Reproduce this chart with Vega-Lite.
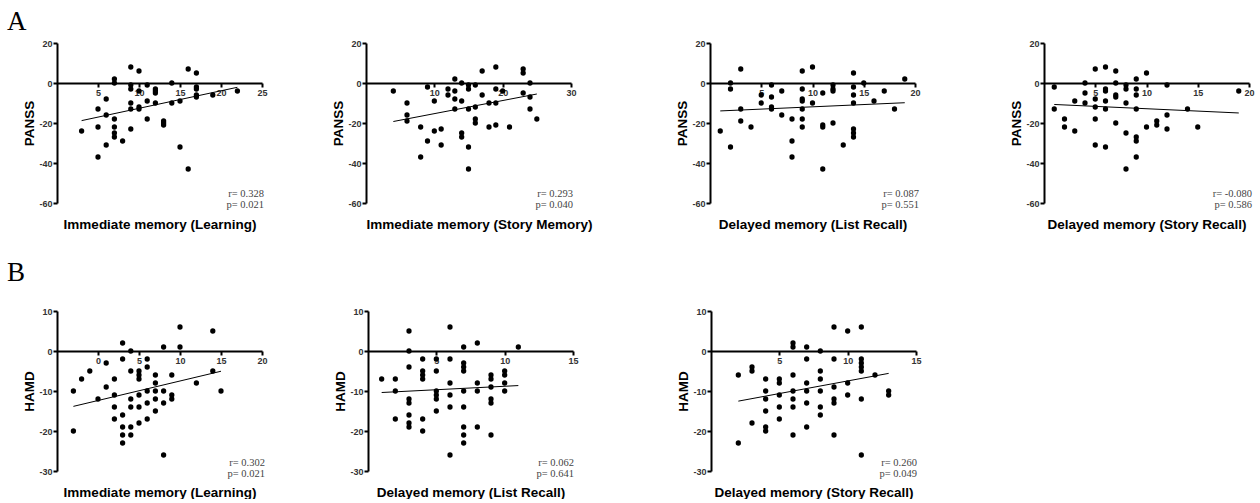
{
  "$schema": "https://vega.github.io/schema/vega-lite/v6.json",
  "padding": {"left": 7, "top": 8, "right": 0, "bottom": 0},
  "background": "white",
  "datasets": {
    "a1": [{"x":3,"y":-24},{"x":5,"y":-13},{"x":5,"y":-22},{"x":5,"y":-37},{"x":6,"y":-8},{"x":6,"y":-16},{"x":6,"y":-31},{"x":7,"y":2},{"x":7,"y":0},{"x":7,"y":-18},{"x":7,"y":-22},{"x":7,"y":-25},{"x":7,"y":-27},{"x":8,"y":-29},{"x":9,"y":8},{"x":9,"y":-1},{"x":9,"y":-3},{"x":9,"y":-10},{"x":9,"y":-13},{"x":9,"y":-23},{"x":10,"y":6},{"x":10,"y":-4},{"x":10,"y":-12},{"x":10,"y":-13},{"x":11,"y":-1},{"x":11,"y":-9},{"x":11,"y":-18},{"x":12,"y":-3},{"x":12,"y":-4},{"x":12,"y":-5},{"x":12,"y":-10},{"x":13,"y":-19},{"x":13,"y":-20},{"x":13,"y":-21},{"x":14,"y":0},{"x":14,"y":-10},{"x":15,"y":-9},{"x":15,"y":-32},{"x":16,"y":7},{"x":16,"y":-43},{"x":17,"y":5},{"x":17,"y":-2},{"x":17,"y":-3},{"x":17,"y":-6},{"x":17,"y":-7},{"x":19,"y":-6},{"x":22,"y":-4}],
    "a2": [{"x":4,"y":-4},{"x":6,"y":-10},{"x":6,"y":-16},{"x":6,"y":-19},{"x":8,"y":-22},{"x":8,"y":-37},{"x":9,"y":-2},{"x":9,"y":-29},{"x":10,"y":-9},{"x":10,"y":-24},{"x":11,"y":-23},{"x":11,"y":-31},{"x":12,"y":-3},{"x":12,"y":-6},{"x":13,"y":2},{"x":13,"y":-4},{"x":13,"y":-8},{"x":13,"y":-13},{"x":14,"y":0},{"x":14,"y":-9},{"x":14,"y":-25},{"x":14,"y":-27},{"x":15,"y":-1},{"x":15,"y":-3},{"x":15,"y":-13},{"x":15,"y":-32},{"x":15,"y":-43},{"x":16,"y":-1},{"x":16,"y":-12},{"x":16,"y":-18},{"x":16,"y":-20},{"x":17,"y":6},{"x":17,"y":-6},{"x":18,"y":-10},{"x":18,"y":-22},{"x":19,"y":8},{"x":19,"y":-3},{"x":19,"y":-10},{"x":19,"y":-21},{"x":20,"y":-4},{"x":21,"y":-22},{"x":23,"y":7},{"x":23,"y":5},{"x":23,"y":-5},{"x":24,"y":0},{"x":24,"y":-7},{"x":24,"y":-13},{"x":25,"y":-18}],
    "a3": [{"x":1,"y":-24},{"x":2,"y":0},{"x":2,"y":-3},{"x":2,"y":-32},{"x":3,"y":7},{"x":3,"y":-13},{"x":3,"y":-19},{"x":4,"y":-22},{"x":5,"y":-6},{"x":5,"y":-10},{"x":6,"y":-1},{"x":6,"y":-7},{"x":6,"y":-12},{"x":6,"y":-13},{"x":7,"y":-4},{"x":7,"y":-16},{"x":8,"y":-18},{"x":8,"y":-29},{"x":8,"y":-37},{"x":9,"y":6},{"x":9,"y":-3},{"x":9,"y":-8},{"x":9,"y":-9},{"x":9,"y":-13},{"x":9,"y":-18},{"x":9,"y":-22},{"x":10,"y":8},{"x":10,"y":-10},{"x":11,"y":-5},{"x":11,"y":-21},{"x":11,"y":-22},{"x":11,"y":-43},{"x":12,"y":-1},{"x":12,"y":-3},{"x":12,"y":-4},{"x":12,"y":-20},{"x":13,"y":-31},{"x":14,"y":5},{"x":14,"y":-2},{"x":14,"y":-6},{"x":14,"y":-10},{"x":14,"y":-23},{"x":14,"y":-25},{"x":14,"y":-27},{"x":15,"y":0},{"x":16,"y":-9},{"x":17,"y":-4},{"x":18,"y":-13},{"x":19,"y":2}],
    "a4": [{"x":1,"y":-2},{"x":1,"y":-13},{"x":2,"y":-18},{"x":2,"y":-22},{"x":3,"y":-9},{"x":3,"y":-24},{"x":4,"y":0},{"x":4,"y":-5},{"x":4,"y":-10},{"x":5,"y":7},{"x":5,"y":-8},{"x":5,"y":-12},{"x":5,"y":-18},{"x":5,"y":-31},{"x":6,"y":8},{"x":6,"y":-3},{"x":6,"y":-4},{"x":6,"y":-9},{"x":6,"y":-13},{"x":6,"y":-32},{"x":7,"y":6},{"x":7,"y":0},{"x":7,"y":-6},{"x":7,"y":-7},{"x":7,"y":-20},{"x":8,"y":-1},{"x":8,"y":-3},{"x":8,"y":-10},{"x":8,"y":-25},{"x":8,"y":-43},{"x":9,"y":2},{"x":9,"y":-3},{"x":9,"y":-6},{"x":9,"y":-13},{"x":9,"y":-27},{"x":9,"y":-29},{"x":9,"y":-37},{"x":10,"y":5},{"x":10,"y":-22},{"x":11,"y":-19},{"x":11,"y":-21},{"x":12,"y":-1},{"x":12,"y":-16},{"x":12,"y":-23},{"x":14,"y":-13},{"x":15,"y":-22},{"x":19,"y":-4}],
    "b1": [{"x":-3,"y":-10},{"x":-3,"y":-20},{"x":-2,"y":-7},{"x":-1,"y":-5},{"x":0,"y":-12},{"x":1,"y":-3},{"x":1,"y":-9},{"x":2,"y":-7},{"x":2,"y":-11},{"x":2,"y":-14},{"x":2,"y":-17},{"x":3,"y":2},{"x":3,"y":-2},{"x":3,"y":-16},{"x":3,"y":-19},{"x":3,"y":-21},{"x":3,"y":-23},{"x":4,"y":0},{"x":4,"y":-5},{"x":4,"y":-12},{"x":4,"y":-14},{"x":4,"y":-19},{"x":4,"y":-21},{"x":5,"y":-5},{"x":5,"y":-6},{"x":5,"y":-7},{"x":5,"y":-11},{"x":5,"y":-14},{"x":5,"y":-18},{"x":6,"y":-2},{"x":6,"y":-4},{"x":6,"y":-10},{"x":6,"y":-13},{"x":6,"y":-17},{"x":7,"y":-6},{"x":7,"y":-8},{"x":7,"y":-10},{"x":7,"y":-12},{"x":7,"y":-15},{"x":8,"y":1},{"x":8,"y":-10},{"x":8,"y":-13},{"x":8,"y":-26},{"x":9,"y":-6},{"x":9,"y":-11},{"x":9,"y":-12},{"x":10,"y":6},{"x":10,"y":1},{"x":12,"y":-8},{"x":14,"y":5},{"x":14,"y":-5},{"x":15,"y":-10}],
    "b2": [{"x":1,"y":-7},{"x":2,"y":-7},{"x":2,"y":-10},{"x":2,"y":-17},{"x":3,"y":5},{"x":3,"y":0},{"x":3,"y":-4},{"x":3,"y":-12},{"x":3,"y":-13},{"x":3,"y":-16},{"x":3,"y":-18},{"x":3,"y":-19},{"x":4,"y":-2},{"x":4,"y":-5},{"x":4,"y":-6},{"x":4,"y":-7},{"x":4,"y":-17},{"x":4,"y":-20},{"x":5,"y":-2},{"x":5,"y":-5},{"x":5,"y":-10},{"x":5,"y":-11},{"x":5,"y":-12},{"x":5,"y":-15},{"x":6,"y":6},{"x":6,"y":-2},{"x":6,"y":-8},{"x":6,"y":-11},{"x":6,"y":-14},{"x":6,"y":-26},{"x":7,"y":1},{"x":7,"y":-3},{"x":7,"y":-4},{"x":7,"y":-5},{"x":7,"y":-10},{"x":7,"y":-14},{"x":7,"y":-19},{"x":7,"y":-21},{"x":7,"y":-23},{"x":8,"y":2},{"x":8,"y":-8},{"x":8,"y":-10},{"x":8,"y":-19},{"x":9,"y":-6},{"x":9,"y":-7},{"x":9,"y":-9},{"x":9,"y":-12},{"x":9,"y":-13},{"x":9,"y":-21},{"x":10,"y":-5},{"x":10,"y":-6},{"x":10,"y":-8},{"x":10,"y":-10},{"x":11,"y":1}],
    "b3": [{"x":2,"y":-6},{"x":2,"y":-23},{"x":3,"y":-4},{"x":3,"y":-5},{"x":3,"y":-18},{"x":4,"y":-7},{"x":4,"y":-10},{"x":4,"y":-12},{"x":4,"y":-15},{"x":4,"y":-19},{"x":4,"y":-20},{"x":5,"y":-7},{"x":5,"y":-8},{"x":5,"y":-11},{"x":5,"y":-14},{"x":5,"y":-17},{"x":6,"y":2},{"x":6,"y":1},{"x":6,"y":-6},{"x":6,"y":-10},{"x":6,"y":-12},{"x":6,"y":-14},{"x":6,"y":-21},{"x":7,"y":1},{"x":7,"y":-2},{"x":7,"y":-8},{"x":7,"y":-10},{"x":7,"y":-13},{"x":7,"y":-19},{"x":8,"y":0},{"x":8,"y":-5},{"x":8,"y":-7},{"x":8,"y":-10},{"x":8,"y":-14},{"x":8,"y":-16},{"x":9,"y":6},{"x":9,"y":-2},{"x":9,"y":-9},{"x":9,"y":-12},{"x":9,"y":-13},{"x":9,"y":-21},{"x":10,"y":5},{"x":10,"y":-8},{"x":10,"y":-11},{"x":11,"y":6},{"x":11,"y":-2},{"x":11,"y":-3},{"x":11,"y":-4},{"x":11,"y":-5},{"x":11,"y":-12},{"x":11,"y":-26},{"x":12,"y":-6},{"x":13,"y":-10},{"x":13,"y":-11}]
  },
  "config": {
    "view": {"stroke": null},
    "font": "Liberation Sans",
    "axis": {"grid": false, "domainColor": "#000", "domainWidth": 2, "tickColor": "#000", "tickWidth": 2, "tickSize": 4, "tickCount": 12, "labelFont": "Liberation Sans", "labelFontWeight": "bold", "labelFontSize": 9, "labelColor": "#333", "labelPadding": 1, "titleFont": "Liberation Sans", "titleFontWeight": "bold", "titleFontSize": 13.5, "titleColor": "#000", "labelFlush": false, "labelOverlap": false},
    "title": {"font": "Liberation Serif", "fontSize": 27, "fontWeight": "normal", "color": "#000", "anchor": "start"}
  },
  "vconcat": [
    {
      "title": {"text": "A", "offset": 3, "dx": -15},
      "spacing": 83,
      "hconcat": [
        {"spacing": 63, "hconcat": [
          {"width": 205, "height": 160, "data": {"name": "a1"}, "layer": [
            {"mark": {"type": "circle", "size": 28, "color": "#000", "opacity": 1},
             "encoding": {
               "x": {"field": "x", "type": "quantitative", "scale": {"domain": [0, 25], "nice": false, "zero": false}, "axis": {"values": [5, 10, 15, 20, 25], "tickCount": 12, "offset": -120, "title": "Immediate memory (Learning)", "titleY": 145, "titleBaseline": "alphabetic", "labelOverlap": false}},
               "y": {"field": "y", "type": "quantitative", "scale": {"domain": [-60, 20], "nice": false, "zero": false}, "axis": {"values": [-60, -40, -20, 0, 20], "tickCount": 12, "labelExpr": "'' + datum.value", "labelOverlap": false, "title": "PANSS", "titleX": -28, "titleBaseline": "middle"}}}},
            {"transform": [{"regression": "y", "on": "x"}], "mark": {"type": "line", "color": "#000", "strokeWidth": 1}, "encoding": {"x": {"field": "x", "type": "quantitative"}, "y": {"field": "y", "type": "quantitative"}}},
            {"data": {"values": [{"lines": ["r= 0.328", "p= 0.021"]}]}, "mark": {"type": "text", "align": "right", "baseline": "alphabetic", "font": "Liberation Serif", "fontSize": 10.5, "lineHeight": 10.5, "color": "#444", "dx": 2}, "encoding": {"x": {"datum": 25}, "y": {"datum": -57}, "text": {"field": "lines"}}}
          ]},
          {"width": 205, "height": 160, "data": {"name": "a2"}, "layer": [
            {"mark": {"type": "circle", "size": 28, "color": "#000", "opacity": 1},
             "encoding": {
               "x": {"field": "x", "type": "quantitative", "scale": {"domain": [0, 30], "nice": false, "zero": false}, "axis": {"values": [10, 20, 30], "tickCount": 12, "offset": -120, "title": "Immediate memory (Story Memory)", "titleY": 145, "titleX": 113, "titleBaseline": "alphabetic", "labelOverlap": false}},
               "y": {"field": "y", "type": "quantitative", "scale": {"domain": [-60, 20], "nice": false, "zero": false}, "axis": {"values": [-60, -40, -20, 0, 20], "tickCount": 12, "labelExpr": "'' + datum.value", "labelOverlap": false, "title": "PANSS", "titleX": -28, "titleBaseline": "middle"}}}},
            {"transform": [{"regression": "y", "on": "x"}], "mark": {"type": "line", "color": "#000", "strokeWidth": 1}, "encoding": {"x": {"field": "x", "type": "quantitative"}, "y": {"field": "y", "type": "quantitative"}}},
            {"data": {"values": [{"lines": ["r= 0.293", "p= 0.040"]}]}, "mark": {"type": "text", "align": "right", "baseline": "alphabetic", "font": "Liberation Serif", "fontSize": 10.5, "lineHeight": 10.5, "color": "#444", "dx": 2}, "encoding": {"x": {"datum": 30}, "y": {"datum": -57}, "text": {"field": "lines"}}}
          ]}
        ]},
        {"spacing": 88, "hconcat": [
          {"width": 205, "height": 160, "data": {"name": "a3"}, "layer": [
            {"mark": {"type": "circle", "size": 28, "color": "#000", "opacity": 1},
             "encoding": {
               "x": {"field": "x", "type": "quantitative", "scale": {"domain": [0, 20], "nice": false, "zero": false}, "axis": {"values": [5, 10, 15, 20], "tickCount": 12, "offset": -120, "title": "Delayed memory (List Recall)", "titleY": 145, "titleBaseline": "alphabetic", "labelOverlap": false}},
               "y": {"field": "y", "type": "quantitative", "scale": {"domain": [-60, 20], "nice": false, "zero": false}, "axis": {"values": [-60, -40, -20, 0, 20], "tickCount": 12, "labelExpr": "'' + datum.value", "labelOverlap": false, "title": "PANSS", "titleX": -28, "titleBaseline": "middle"}}}},
            {"transform": [{"regression": "y", "on": "x"}], "mark": {"type": "line", "color": "#000", "strokeWidth": 1}, "encoding": {"x": {"field": "x", "type": "quantitative"}, "y": {"field": "y", "type": "quantitative"}}},
            {"data": {"values": [{"lines": ["r= 0.087", "p= 0.551"]}]}, "mark": {"type": "text", "align": "right", "baseline": "alphabetic", "font": "Liberation Serif", "fontSize": 10.5, "lineHeight": 10.5, "color": "#444", "dx": 4}, "encoding": {"x": {"datum": 20}, "y": {"datum": -57}, "text": {"field": "lines"}}}
          ]},
          {"width": 205, "height": 160, "data": {"name": "a4"}, "layer": [
            {"mark": {"type": "circle", "size": 28, "color": "#000", "opacity": 1},
             "encoding": {
               "x": {"field": "x", "type": "quantitative", "scale": {"domain": [0, 20], "nice": false, "zero": false}, "axis": {"values": [5, 10, 15, 20], "tickCount": 12, "offset": -120, "title": "Delayed memory (Story Recall)", "titleY": 145, "titleBaseline": "alphabetic", "labelOverlap": false}},
               "y": {"field": "y", "type": "quantitative", "scale": {"domain": [-60, 20], "nice": false, "zero": false}, "axis": {"values": [-60, -40, -20, 0, 20], "tickCount": 12, "labelExpr": "'' + datum.value", "labelOverlap": false, "title": "PANSS", "titleX": -28, "titleBaseline": "middle"}}}},
            {"transform": [{"regression": "y", "on": "x"}], "mark": {"type": "line", "color": "#000", "strokeWidth": 1}, "encoding": {"x": {"field": "x", "type": "quantitative"}, "y": {"field": "y", "type": "quantitative"}}},
            {"data": {"values": [{"lines": ["r= -0.080", "p= 0.586"]}]}, "mark": {"type": "text", "align": "right", "baseline": "alphabetic", "font": "Liberation Serif", "fontSize": 10.5, "lineHeight": 10.5, "color": "#444", "dx": 3}, "encoding": {"x": {"datum": 20}, "y": {"datum": -57}, "text": {"field": "lines"}}}
          ]}
        ]}
      ]
    },
    {
      "title": {"text": "B", "offset": 20, "dx": -15},
      "spacing": 97,
      "hconcat": [
        {"spacing": 65, "hconcat": [
          {"width": 205, "height": 160, "data": {"name": "b1"}, "layer": [
            {"mark": {"type": "circle", "size": 28, "color": "#000", "opacity": 1},
             "encoding": {
               "x": {"field": "x", "type": "quantitative", "scale": {"domain": [-5, 20], "nice": false, "zero": false}, "axis": {"values": [0, 5, 10, 15, 20], "tickCount": 12, "offset": -120, "title": "Immediate memory (Learning)", "titleY": 145, "titleBaseline": "alphabetic", "labelOverlap": false}},
               "y": {"field": "y", "type": "quantitative", "scale": {"domain": [-30, 10], "nice": false, "zero": false}, "axis": {"values": [-30, -20, -10, 0, 10], "tickCount": 12, "labelExpr": "'' + datum.value", "labelOverlap": false, "title": "HAMD", "titleX": -28, "titleBaseline": "middle"}}}},
            {"transform": [{"regression": "y", "on": "x"}], "mark": {"type": "line", "color": "#000", "strokeWidth": 1}, "encoding": {"x": {"field": "x", "type": "quantitative"}, "y": {"field": "y", "type": "quantitative"}}},
            {"data": {"values": [{"lines": ["r= 0.302", "p= 0.021"]}]}, "mark": {"type": "text", "align": "right", "baseline": "alphabetic", "font": "Liberation Serif", "fontSize": 10.5, "lineHeight": 10.5, "color": "#444", "dx": 3}, "encoding": {"x": {"datum": 20}, "y": {"datum": -28.8}, "text": {"field": "lines"}}}
          ]},
          {"width": 205, "height": 160, "data": {"name": "b2"}, "layer": [
            {"mark": {"type": "circle", "size": 28, "color": "#000", "opacity": 1},
             "encoding": {
               "x": {"field": "x", "type": "quantitative", "scale": {"domain": [0, 15], "nice": false, "zero": false}, "axis": {"values": [5, 10, 15], "tickCount": 12, "offset": -120, "title": "Delayed memory (List Recall)", "titleY": 145, "titleBaseline": "alphabetic", "labelOverlap": false}},
               "y": {"field": "y", "type": "quantitative", "scale": {"domain": [-30, 10], "nice": false, "zero": false}, "axis": {"values": [-30, -20, -10, 0, 10], "tickCount": 12, "labelExpr": "'' + datum.value", "labelOverlap": false, "title": "HAMD", "titleX": -28, "titleBaseline": "middle"}}}},
            {"transform": [{"regression": "y", "on": "x"}], "mark": {"type": "line", "color": "#000", "strokeWidth": 1}, "encoding": {"x": {"field": "x", "type": "quantitative"}, "y": {"field": "y", "type": "quantitative"}}},
            {"data": {"values": [{"lines": ["r= 0.062", "p= 0.641"]}]}, "mark": {"type": "text", "align": "right", "baseline": "alphabetic", "font": "Liberation Serif", "fontSize": 10.5, "lineHeight": 10.5, "color": "#444", "dx": 1}, "encoding": {"x": {"datum": 15}, "y": {"datum": -28.8}, "text": {"field": "lines"}}}
          ]}
        ]},
        {"width": 205, "height": 160, "data": {"name": "b3"}, "layer": [
          {"mark": {"type": "circle", "size": 28, "color": "#000", "opacity": 1},
           "encoding": {
             "x": {"field": "x", "type": "quantitative", "scale": {"domain": [0, 15], "nice": false, "zero": false}, "axis": {"values": [5, 10, 15], "tickCount": 12, "offset": -120, "title": "Delayed memory (Story Recall)", "titleY": 145, "titleBaseline": "alphabetic", "labelOverlap": false}},
             "y": {"field": "y", "type": "quantitative", "scale": {"domain": [-30, 10], "nice": false, "zero": false}, "axis": {"values": [-30, -20, -10, 0, 10], "tickCount": 12, "labelExpr": "'' + datum.value", "labelOverlap": false, "title": "HAMD", "titleX": -28, "titleBaseline": "middle"}}}},
          {"transform": [{"regression": "y", "on": "x"}], "mark": {"type": "line", "color": "#000", "strokeWidth": 1}, "encoding": {"x": {"field": "x", "type": "quantitative"}, "y": {"field": "y", "type": "quantitative"}}},
          {"data": {"values": [{"lines": ["r= 0.260", "p= 0.049"]}]}, "mark": {"type": "text", "align": "right", "baseline": "alphabetic", "font": "Liberation Serif", "fontSize": 10.5, "lineHeight": 10.5, "color": "#444", "dx": 1}, "encoding": {"x": {"datum": 15}, "y": {"datum": -28.8}, "text": {"field": "lines"}}}
        ]}
      ]
    }
  ],
  "spacing": 28
}
